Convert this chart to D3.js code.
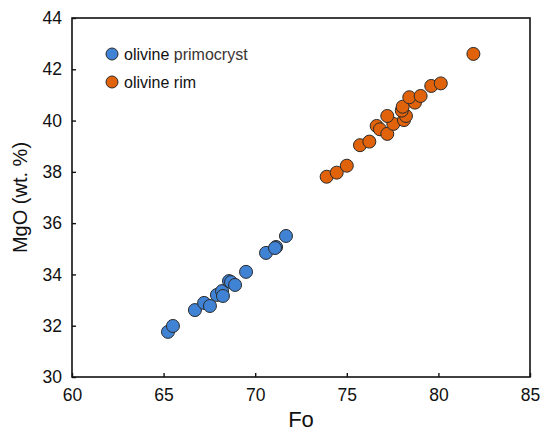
<!DOCTYPE html>
<html>
<head>
<meta charset="utf-8">
<script src="https://cdn.jsdelivr.net/npm/d3@7"></script>
<style>
  body { margin: 0; background: #fff; }
  text { font-family: "Liberation Sans", Arial, sans-serif; }
</style>
</head>
<body>
<svg id="chart" width="540" height="431"></svg>
<script>
// Fo en MgO van de olivijn kernen (primocrysten)
const primoFo  = [65.24, 65.51, 66.71, 67.21, 67.53, 67.91, 68.19, 68.24, 68.57, 68.68, 68.90, 69.50, 70.59, 71.14, 71.08, 71.68];
const primoMgO = [31.76, 31.99, 32.61, 32.89, 32.77, 33.20, 33.35, 33.16, 33.74, 33.70, 33.59, 34.10, 34.84, 35.07, 35.03, 35.50];

// Fo en MgO van de olivijn randen
const rimFo  = [73.90, 74.45, 75.00, 75.72, 76.23, 76.63, 76.81, 77.21, 77.54, 77.21, 78.12, 78.23, 78.00, 78.05, 78.72, 78.41, 79.03, 79.61, 80.13, 81.91];
const rimMgO = [37.81, 37.97, 38.24, 39.04, 39.18, 39.79, 39.66, 39.48, 39.87, 40.18, 40.02, 40.18, 40.39, 40.54, 40.70, 40.91, 40.96, 41.35, 41.45, 42.60];

const xTicks = [60, 65, 70, 75, 80, 85];
const yTicks = [30, 32, 34, 36, 38, 40, 42, 44];

const series = [
    { name: 'primocryst', fo: primoFo, mgo: primoMgO, color: '#4082d3' },
    { name: 'rim', fo: rimFo, mgo: rimMgO, color: '#e0620a' }
];

const svg = d3.select('#chart');
const margin = { left: 72, right: 10, top: 18, bottom: 54 };
const width = 540, height = 431;

const x = d3.scaleLinear().domain([60, 85]).range([margin.left, width - margin.right]);
const y = d3.scaleLinear().domain([30, 44]).range([height - margin.bottom, margin.top]);

// kader rond het plotgebied
svg.append('rect')
    .attr('x', x(60)).attr('y', y(44))
    .attr('width', x(85) - x(60)).attr('height', y(30) - y(44))
    .attr('fill', 'none').attr('stroke', '#111').attr('stroke-width', 1.6);

// x-as met tickjes naar binnen
const xAxis = svg.append('g')
    .attr('transform', `translate(0,${y(30)})`)
    .call(d3.axisBottom(x).tickValues(xTicks).tickSizeInner(-4).tickSizeOuter(0).tickPadding(12));
xAxis.select('.domain').remove();
xAxis.selectAll('line').attr('stroke', '#111').attr('stroke-width', 1.4);
xAxis.selectAll('text').attr('font-size', 17.5).attr('fill', '#111')
    .attr('font-family', '"Liberation Sans", Arial, sans-serif');

// y-as
const yAxis = svg.append('g')
    .attr('transform', `translate(${x(60)},0)`)
    .call(d3.axisLeft(y).tickValues(yTicks).tickSizeInner(-4).tickSizeOuter(0).tickPadding(10));
yAxis.select('.domain').remove();
yAxis.selectAll('line').attr('stroke', '#111').attr('stroke-width', 1.4);
yAxis.selectAll('text').attr('font-size', 17.5).attr('fill', '#111')
    .attr('font-family', '"Liberation Sans", Arial, sans-serif');

// astitels
svg.append('text')
    .attr('x', (x(60) + x(85)) / 2).attr('y', 427)
    .attr('text-anchor', 'middle').attr('font-size', 22).attr('fill', '#111')
    .text('Fo');

svg.append('text')
    .attr('transform', `translate(27,${(y(30) + y(44)) / 2}) rotate(-90)`)
    .attr('text-anchor', 'middle').attr('font-size', 20).attr('fill', '#111')
    .text('MgO (wt. %)');

// punten
series.forEach(s => {
    svg.append('g').selectAll('circle')
        .data(s.fo.map((f, i) => [f, s.mgo[i]]))
        .join('circle')
        .attr('cx', d => x(d[0]))
        .attr('cy', d => y(d[1]))
        .attr('r', 6.5)
        .attr('fill', s.color)
        .attr('stroke', '#2a2a2a')
        .attr('stroke-width', 1);
});

// legenda
const legend = svg.append('g');
legend.append('circle').attr('cx', 112).attr('cy', 54).attr('r', 6).attr('fill', series[0].color).attr('stroke', '#2a2a2a');
legend.append('circle').attr('cx', 112).attr('cy', 82).attr('r', 6).attr('fill', series[1].color).attr('stroke', '#2a2a2a');

const t1 = legend.append('text').attr('x', 124).attr('y', 59.5).attr('font-size', 16).attr('fill', '#111');
t1.append('tspan').text('olivine ');
t1.append('tspan').attr('fill', '#3a3434').text('primocryst');

legend.append('text').attr('x', 124).attr('y', 87.5).attr('font-size', 16).attr('fill', '#111').text('olivine rim');
</script>
</body>
</html>
